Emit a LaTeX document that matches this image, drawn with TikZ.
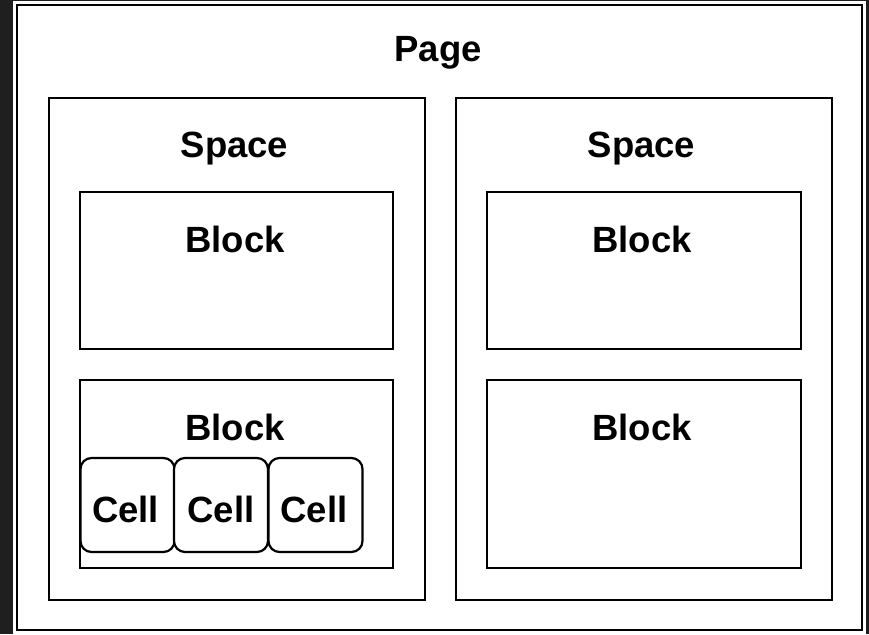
\documentclass[tikz,border=0pt]{standalone}
\usepackage{fontspec}
\setmainfont{Liberation Sans}
\definecolor{framedark}{RGB}{31,31,31}
\begin{document}
\begin{tikzpicture}[x=1pt,y=-1pt,
  box/.style={draw=black, line width=2.6pt, fill=white, inner sep=0pt, minimum width=#1},
  cellbox/.style={draw=black, line width=2.2pt, fill=white, rounded corners=11pt, inner sep=0pt, minimum width=94pt, minimum height=94pt},
  title/.style={anchor=base, inner sep=0pt, font=\fontsize{36.5}{43}\selectfont\bfseries}]
  % canvas and dark frame
  \fill[framedark] (0,0) rectangle (869,634);
  \fill[white] (13,1) rectangle (866,634);
  \useasboundingbox (0,0) rectangle (869,634);

  % page
  \node[box=845pt, minimum height=625pt] (page) at (439.5,317.5) {};
  \node[title] (pagelbl) at (438,62) {Page};

  % spaces
  \node[box=376pt, minimum height=502pt] (spaceL) at (237,349) {};
  \node[box=376pt, minimum height=502pt] (spaceR) at (644,349) {};
  \node[title] (spaceLlbl) at (234.5,157) {Space};
  \node[title] (spaceRlbl) at (641.5,157) {Space};

  % blocks
  \node[box=313pt, minimum height=157pt] (blockLA) at (236.5,270.5) {};
  \node[box=313pt, minimum height=188pt] (blockLB) at (236.5,474) {};
  \node[box=314pt, minimum height=157pt] (blockRA) at (644,270.5) {};
  \node[box=314pt, minimum height=188pt] (blockRB) at (644,474) {};
  \node[title] (blockLAlbl) at (235,252) {Block};
  \node[title] (blockLBlbl) at (235,440) {Block};
  \node[title] (blockRAlbl) at (642,252) {Block};
  \node[title] (blockRBlbl) at (642,440) {Block};

  % cells
  \node[cellbox] (cellA) at (127.5,505) {};
  \node[cellbox] (cellB) at (221,505) {};
  \node[cellbox] (cellC) at (315.5,505) {};
  \node[title] (cellAlbl) at (125.5,522) {Cell};
  \node[title] (cellBlbl) at (221,522) {Cell};
  \node[title] (cellClbl) at (314,522) {Cell};
\end{tikzpicture}
\end{document}
